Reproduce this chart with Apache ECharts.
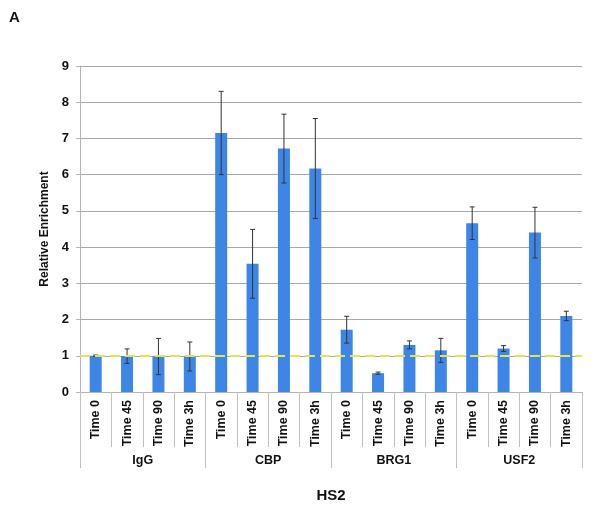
<!DOCTYPE html>
<html>
<head>
<meta charset="utf-8">
<script src="https://cdn.jsdelivr.net/npm/echarts@6/dist/echarts.min.js"></script>
<style>
html,body{margin:0;padding:0;background:#fff;}
#c{width:600px;height:508px;}
</style>
</head>
<body>
<div id="c"></div>
<script>
const times = ['Time 0','Time 45','Time 90','Time 3h'];
const groups = ['IgG','CBP','BRG1','USF2'];
const categories = [];
groups.forEach(g => times.forEach(t => categories.push(t)));
const values = [1.00, 0.99, 0.98, 0.98, 7.15, 3.54, 6.72, 6.17, 1.72, 0.52, 1.30, 1.15, 4.66, 1.20, 4.40, 2.10];
const errors = [0.02, 0.20, 0.50, 0.40, 1.15, 0.95, 0.95, 1.38, 0.37, 0.03, 0.11, 0.33, 0.45, 0.08, 0.70, 0.13];
const yTicks = [0,1,2,3,4,5,6,7,8,9];
const baseline = 1;

const errData = values.map((v,i) => [i, v - errors[i], v + errors[i]]);
const font = '"Liberation Sans", Arial, sans-serif';

const chart = echarts.init(document.getElementById('c'), null, {renderer:'canvas'});
chart.setOption({
  animation:false,
  backgroundColor:'#fff',
  graphic:[{type:'text', left:9, top:10, style:{text:'A', font:'bold 15px '+font, fill:'#111'}}],
  grid:{left:80, right:18, top:66, bottom:116, containLabel:false},
  xAxis:[{
    type:'category', data:categories, position:'bottom',
    axisLine:{show:true, lineStyle:{color:'#b5b5b5', width:1}},
    axisTick:{show:true, length:55, interval:0, lineStyle:{color:'#c0c0c0'}},
    axisLabel:{interval:0, rotate:90, margin:8, color:'#111', fontWeight:'bold', fontSize:12.5, fontFamily:font},
    splitLine:{show:false}
  },{
    type:'category', data:groups, position:'bottom',
    axisLine:{show:false},
    axisTick:{show:true, length:76, interval:0, lineStyle:{color:'#c0c0c0'}},
    axisLabel:{interval:0, margin:62, color:'#111', fontWeight:'bold', fontSize:12.5, fontFamily:font},
    name:'HS2', nameLocation:'middle', nameGap:96,
    nameTextStyle:{color:'#111', fontWeight:'bold', fontSize:15, fontFamily:font}
  }],
  yAxis:{
    type:'value', min:yTicks[0], max:yTicks[yTicks.length-1], interval:1,
    name:'Relative Enrichment', nameLocation:'middle', nameGap:25,
    nameTextStyle:{color:'#111', fontWeight:'bold', fontSize:12, fontFamily:font},
    axisLine:{show:true, lineStyle:{color:'#b5b5b5'}},
    axisTick:{show:true, length:4, lineStyle:{color:'#b5b5b5'}},
    axisLabel:{color:'#111', fontWeight:'bold', fontSize:13, fontFamily:font, margin:11},
    splitLine:{show:true, lineStyle:{color:'#a8a8a8', width:1}}
  },
  series:[{
    type:'bar', data:values, barWidth:12, xAxisIndex:0,
    itemStyle:{color:'#3d86e6'},
    z:2
  },{
    type:'custom', xAxisIndex:0, data:errData, z:5,
    renderItem:function(params, api){
      const x = api.value(0);
      const lo = api.coord([x, api.value(1)]);
      const hi = api.coord([x, api.value(2)]);
      const w = 2.5;
      const st = {stroke:'#333', lineWidth:1};
      return {type:'group', children:[
        {type:'line', shape:{x1:lo[0], y1:lo[1], x2:hi[0], y2:hi[1]}, style:st},
        {type:'line', shape:{x1:lo[0]-w, y1:lo[1], x2:lo[0]+w, y2:lo[1]}, style:st},
        {type:'line', shape:{x1:hi[0]-w, y1:hi[1], x2:hi[0]+w, y2:hi[1]}, style:st}
      ]};
    },
    markLine:{
      silent:true, symbol:'none', label:{show:false}, z:10,
      lineStyle:{color:'#e4e44c', type:[10,5], width:2, opacity:1},
      data:[{yAxis:baseline}]
    }
  }]
});
</script>
</body>
</html>
